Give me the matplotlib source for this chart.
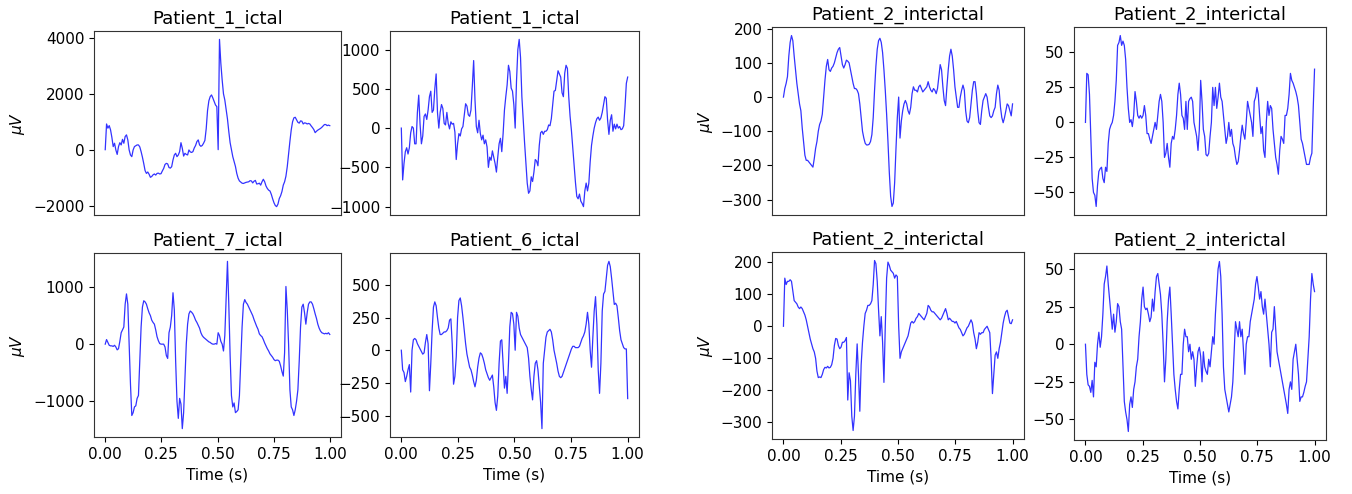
import numpy as np
import matplotlib
matplotlib.use("Agg")
import matplotlib.pyplot as plt

# EEG clips, 1 s each, values in microvolts (uniformly sampled)
titles = ["Patient_1_ictal", "Patient_1_ictal", "Patient_7_ictal", "Patient_6_ictal",
          "Patient_2_interictal", "Patient_2_interictal", "Patient_2_interictal", "Patient_2_interictal"]

p1_ictal_a = [0, 920, 770, 860, 710, 440, 110, 230, -10, -170, 110, 250, 170, 370, 230, 470, 530, 350, -10, -190,
              -250, -10, 110, 140, 170, 170, 100, -70, -270, -500, -750, -850, -800, -880, -990, -960, -900, -870, -910, -850,
              -840, -870, -860, -760, -670, -530, -490, -510, -640, -660, -610, -370, -190, -130, -250, -190, -70, 250, 50, -230,
              -130, -170, -190, -10, -80, -100, -70, 60, 150, 290, 350, 170, 120, 150, 230, 330, 750, 1400, 1750, 1900,
              1960, 1850, 1720, 1600, 1540, 0, 3950, 3100, 2500, 2000, 1780, 1450, 1100, 650, 250, 0, -250, -420, -600, -850,
              -1020, -1120, -1160, -1200, -1210, -1190, -1170, -1160, -1150, -1110, -1120, -1190, -1130, -1100, -1230, -1220, -1200, -1270, -1150, -1060,
              -1150, -1300, -1390, -1450, -1480, -1600, -1760, -1900, -2000, -2040, -1950, -1750, -1650, -1500, -1270, -1150, -950, -610, -150, 300,
              710, 1000, 1140, 1160, 1070, 980, 950, 1030, 1020, 920, 960, 950, 920, 940, 920, 850, 790, 720, 610, 660,
              700, 730, 760, 800, 850, 900, 900, 860, 880, 860]

p1_ictal_b = [0, -660, -450, -300, -250, -330, -250, -60, 20, 0, -200, -200, 200, 420, 50, -200, -100, 150, 180, 110,
              230, 400, 470, 200, 230, 500, 690, 200, 0, 200, 300, 250, 60, 40, 200, 60, -10, 80, 50, 60,
              -50, -400, -200, -70, -100, -10, 20, 170, 310, 280, 170, 150, 230, 530, 860, 360, 20, -60, 100, -70,
              -150, -90, -200, -150, -240, -500, -370, -410, -290, -370, -450, -560, -370, -200, -130, -300, -70, 230, 400, 550,
              800, 720, 510, 470, 300, 0, 600, 1000, 1130, 900, 400, 100, -180, -450, -700, -830, -800, -620, -680, -560,
              -400, -420, -480, -220, -60, -40, -80, -40, -40, -20, 40, 30, 120, 300, 470, 480, 600, 730, 690, 650,
              450, 400, 700, 800, 760, 400, 150, -30, -250, -470, -690, -870, -900, -840, -930, -960, -1000, -800, -700, -800,
              -700, -430, -220, -100, 0, 70, 120, 140, 100, 130, 200, 300, 400, 380, 100, -80, 100, 170, -40, 50,
              -10, 50, 0, 20, -20, -10, 30, 270, 570, 650]

p7_ictal = [0, 80, 30, -20, -30, -30, -40, -20, -50, -100, -80, 50, 200, 250, 300, 700, 880, 700, 0, -700,
            -1250, -1200, -1100, -1080, -950, -900, -300, 300, 650, 760, 740, 700, 620, 550, 500, 420, 380, 350, 250, 130,
            60, 10, 0, 0, 0, -50, -200, -250, 200, 300, 500, 900, 600, -300, -1000, -1300, -950, -1050, -1480, -1200,
            -600, 0, 350, 530, 580, 560, 530, 480, 420, 380, 330, 280, 200, 150, 120, 100, 80, 60, 40, 30,
            10, 0, 0, 10, 0, 200, 150, 50, 0, -120, 150, 800, 1450, 700, -200, -900, -1100, -1030, -1200, -1180,
            -1150, -900, -300, 300, 700, 780, 730, 700, 650, 600, 550, 500, 430, 370, 310, 260, 180, 150, 130, 80,
            20, -30, -80, -120, -170, -200, -230, -270, -290, -280, -280, -300, -380, -480, -560, -150, 1010, 600, 0, -800,
            -1100, -1150, -1250, -1150, -1000, -800, -300, 300, 650, 700, 550, 350, 550, 700, 740, 740, 700, 620, 530, 450,
            350, 280, 230, 200, 190, 180, 190, 180, 200, 170]

p6_ictal = [0, -150, -170, -240, -200, -150, -110, -320, 0, 80, 90, 80, 50, 30, 10, -10, -30, -20, 60, 120,
            50, -310, -100, 150, 330, 370, 340, 250, 170, 120, 120, 130, 140, 140, 150, 170, 230, 240, 50, -260,
            -200, -50, 250, 380, 400, 340, 250, 150, 50, -30, -80, -130, -150, -190, -240, -280, -230, -130, -60, -20,
            -30, -60, -100, -150, -180, -210, -230, -210, -190, -280, -400, -460, -350, -100, 70, 80, -100, -290, -200, -330,
            -100, 180, 290, 280, 200, 0, 290, 260, 170, 120, 100, 80, 60, 40, 20, -60, -200, -300, -380, -200,
            -100, -80, -150, -280, -400, -600, -100, 0, 100, 140, 150, 160, 140, 80, 0, -50, -100, -160, -200, -210,
            -200, -170, -140, -110, -80, -50, -20, 10, 30, 30, 20, 20, 20, 30, 60, 90, 110, 140, 200, 290,
            200, 0, -130, 100, 300, 410, 200, -150, -330, -100, 300, 430, 450, 550, 650, 680, 640, 550, 450, 350,
            360, 340, 250, 150, 80, 50, 20, 10, 10, -370]

p2_inter_a = [0, 25, 40, 60, 120, 160, 180, 165, 120, 80, 40, 10, -20, -40, -90, -130, -170, -185, -185, -190,
              -195, -200, -205, -180, -150, -130, -100, -80, -70, -50, 0, 50, 90, 110, 80, 75, 85, 90, 100, 115,
              130, 140, 145, 120, 95, 85, 95, 108, 105, 100, 80, 60, 40, 25, 25, 20, 10, -20, -60, -100,
              -120, -135, -140, -140, -138, -130, -110, -60, 20, 90, 140, 165, 172, 160, 130, 80, 20, -50, -130, -220,
              -290, -320, -310, -250, -150, -60, 0, -120, -70, -40, -20, -10, -20, -40, -50, -30, 10, 30, 20, 20,
              15, 30, 35, 25, 15, 20, 25, 30, 45, 30, 20, 15, 25, 20, 10, 25, 60, 95, 80, 30,
              -10, -25, 30, 80, 120, 140, 120, 80, 30, 0, -30, -30, 0, 20, 35, 20, -40, -70, -75, -60,
              -20, 20, 45, 45, 10, -40, -75, -80, -40, -10, 0, 10, 0, -30, -55, -60, -55, -40, -30, 10,
              35, 20, -30, -60, -75, -60, -40, -20, -25, -40, -55, -20]

p2_inter_b = [0, 35, 34, 20, -10, -40, -50, -52, -60, -45, -35, -33, -32, -40, -43, -32, -35, -15, -5, -2,
              0, 5, 15, 30, 55, 57, 62, 55, 58, 55, 45, 25, 10, 0, 2, -3, 5, 22, 15, 5,
              3, 5, 3, 5, 12, 5, -8, -8, -12, -15, -10, -5, 0, -5, 5, 15, 20, 15, 0, -25,
              -22, -15, -25, -32, -15, -10, -12, -5, 5, 20, 28, 20, 5, 3, -5, 15, -5, 15, 17, 18,
              15, 0, -5, -10, -20, -5, 30, 15, -5, -10, -23, -24, -22, -10, 0, 25, 12, 25, 10, 18,
              28, 18, 15, 5, -5, -15, -10, 0, -10, -5, -15, -18, -25, -30, -28, -20, -10, -2, -8, -12,
              0, 15, 10, 5, 0, -10, 15, 18, 25, 20, 5, -8, -3, -20, -25, 0, 15, 5, 12, 10,
              -5, -15, -25, -30, -37, -20, -10, -12, -15, 5, 5, 10, 20, 35, 30, 28, 25, 22, 18, 12,
              0, -12, -15, -20, -25, -30, -30, -30, -25, -22, 10, 38]

p2_inter_c = [0, 150, 130, 140, 140, 145, 140, 110, 80, 75, 70, 60, 55, 60, 55, 45, 35, 20, 0, -20,
              -40, -55, -70, -80, -100, -140, -160, -158, -160, -150, -135, -128, -130, -125, -130, -128, -120, -100, -60, -38,
              -40, -60, -70, -65, -50, -50, -45, -35, -230, -145, -170, -280, -325, -280, -150, -55, -150, -265, -120, -50,
              0, 40, 50, 65, 65, 70, 80, 130, 205, 195, 140, 50, -30, 30, -50, -175, 0, 150, 200, 190,
              175, 170, 165, 150, 160, 155, 0, -100, -80, -70, -60, -50, -40, -30, -10, 10, 15, 10, 15, 25,
              30, 40, 35, 30, 25, 20, 30, 40, 65, 60, 50, 45, 45, 40, 35, 30, 25, 20, 25, 35,
              45, 55, 40, 20, 25, 20, 15, 15, 10, 15, 5, -5, -10, -20, -30, -25, -15, -5, 0, 10,
              20, 10, -20, -40, -70, -50, -20, -25, -20, -20, -10, -5, 0, -10, -20, -100, -210, -150, -90, -80,
              -100, -70, -50, -20, 10, 30, 45, 50, 30, 10, 8, 20]

p2_inter_d = [0, -20, -27, -28, -32, -24, -35, -12, -15, 0, 8, -2, 5, 20, 40, 45, 52, 40, 30, 20,
              10, 20, 8, 15, 27, 25, 15, 10, -15, -38, -45, -50, -58, -40, -35, -42, -30, -25, -15, -10,
              5, 15, 30, 38, 25, 23, 24, 20, 15, 18, 30, 22, 35, 45, 47, 40, 33, 20, 0, -25,
              -10, 15, 30, 38, 20, 0, -20, -30, -38, -43, -30, -20, -20, 0, 10, 5, 5, -5, 0, -10,
              -5, -10, -28, -15, -5, -2, -8, -25, -5, -15, -18, -20, -10, -15, -5, 5, 0, 20, 35, 50,
              55, 45, 20, -15, -30, -35, -40, -45, -40, -35, -25, -5, 15, 10, 5, 15, 5, 10, -5, -20,
              0, 5, 5, 15, 20, 25, 30, 40, 45, 38, 30, 35, 25, 20, 30, 20, 10, 0, -15, 8,
              10, 25, 10, -5, -10, -15, -20, -25, -30, -35, -40, -46, -30, -25, -30, -10, -5, 0, -10, -20,
              -38, -35, -35, -32, -28, -25, -10, 5, 30, 47, 40, 35]

signals = [p1_ictal_a, p1_ictal_b, p7_ictal, p6_ictal, p2_inter_a, p2_inter_b, p2_inter_c, p2_inter_d]

yticks = [[-2000, 0, 2000, 4000], [-1000, -500, 0, 500, 1000], [-1000, 0, 1000],
          [-500, -250, 0, 250, 500], [-300, -200, -100, 0, 100, 200], [-50, -25, 0, 25, 50],
          [-300, -200, -100, 0, 100, 200], [-50, -25, 0, 25, 50]]
xticks = [0.0, 0.25, 0.5, 0.75, 1.0]

# axes boxes in pixels: left, top, right, bottom
W, H = 1352, 494
boxes = [(94, 31, 341, 215), (390, 31, 639, 215), (94, 253, 341, 437), (390, 253, 639, 437),
         (772, 27, 1024, 215), (1074, 27, 1326, 215), (772, 252, 1024, 439), (1074, 253, 1326, 440)]
bottom_row = [2, 3, 6, 7]
with_ylabel = [0, 2, 4, 6]

fig = plt.figure(figsize=(W / 100, H / 100), dpi=100)

for i, sig in enumerate(signals):
    l, t, r, b = boxes[i]
    ax = fig.add_axes([l / W, 1 - b / H, (r - l) / W, (b - t) / H])
    time = np.linspace(0, 1, len(sig))
    ax.plot(time, sig, color='blue', lw=0.9, alpha=0.8)
    ax.set_title(titles[i], fontsize=13, pad=5)
    ax.set_yticks(yticks[i])
    ax.tick_params(labelsize=11)
    for sp in ax.spines.values():
        sp.set_edgecolor('#333333')
    if i in bottom_row:
        ax.set_xticks(xticks)
        ax.set_xticklabels([f"{x:.2f}" for x in xticks])
        ax.set_xlabel("Time (s)", fontsize=11)
    else:
        ax.set_xticks([])
    if i in with_ylabel:
        ax.set_ylabel(r"$\mu V$", fontsize=11)
    ax.set_xlim(-0.05, 1.05)

fig.savefig("out.png", dpi=100)
